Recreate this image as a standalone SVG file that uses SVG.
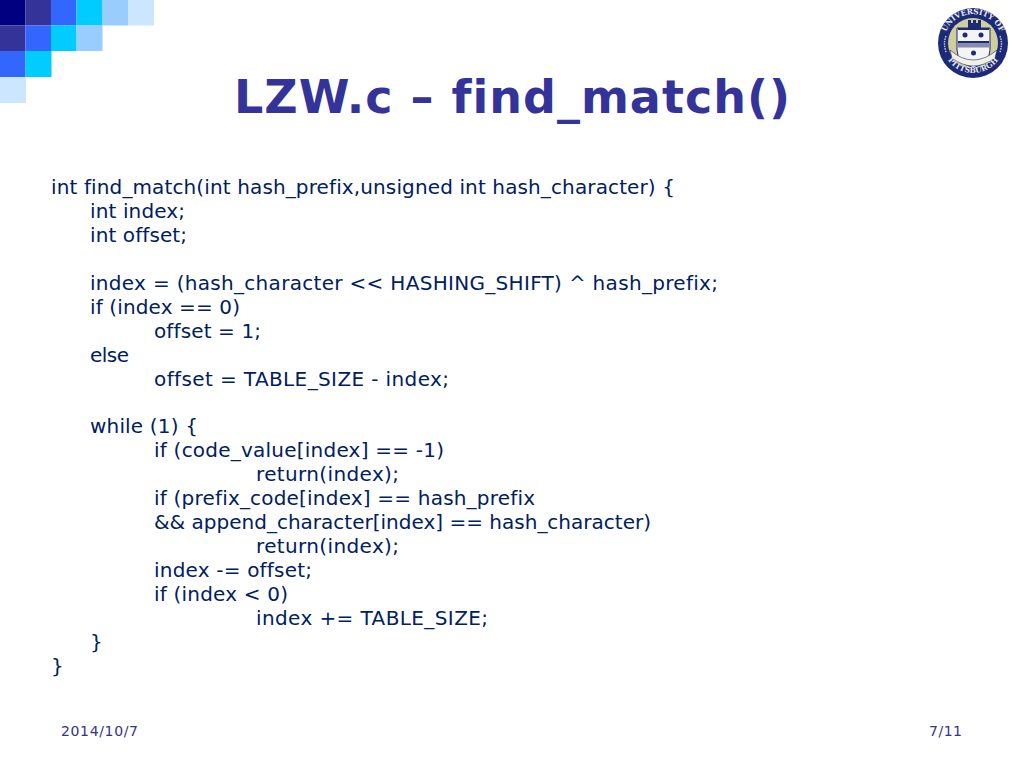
<svg xmlns="http://www.w3.org/2000/svg" width="1024" height="768" viewBox="0 0 1024 768">
<style>
text{font-variant-ligatures:none}
.t{font-family:"DejaVu Sans",Verdana,sans-serif;font-size:20px;fill:#002060}
.h{font-family:"DejaVu Sans",Verdana,sans-serif;font-size:46px;font-weight:bold;fill:#333399}
.f{font-family:"DejaVu Sans",Verdana,sans-serif;font-size:14px;fill:#333388}
.s{font-family:"DejaVu Serif",serif;font-size:7.5px;font-weight:bold;fill:#e8e8f0}
.n{fill:#1c2a78}
</style>
<defs>
<path id="arcT" d="M944 49A29.500 29.500 0 1 1 1002 49"/>
<path id="arcB" d="M942 47A31.500 31.500 0 0 0 1004 47"/>
</defs>
<rect width="1024" height="768" fill="#fff"/>
<g id="corner">
<rect x="0" y="0" width="25.500" height="25.500" fill="#000080"/>
<rect x="25.500" y="0" width="25.500" height="25.500" fill="#333399"/>
<rect x="51" y="0" width="25.500" height="25.500" fill="#3366ff"/>
<rect x="76.500" y="0" width="25.500" height="25.500" fill="#00ccff"/>
<rect x="102" y="0" width="26" height="25.500" fill="#99ccff"/>
<rect x="128" y="0" width="26" height="25.500" fill="#cce6ff"/>
<rect x="0" y="25.500" width="25.500" height="25.500" fill="#333399"/>
<rect x="25.500" y="25.500" width="25.500" height="25.500" fill="#3366ff"/>
<rect x="51" y="25.500" width="25.500" height="25.500" fill="#00ccff"/>
<rect x="76.500" y="25.500" width="26" height="25.500" fill="#99ccff"/>
<rect x="0" y="51" width="25.500" height="26" fill="#3366ff"/>
<rect x="25.500" y="51" width="26" height="26" fill="#00ccff"/>
<rect x="0" y="77" width="26" height="26" fill="#cce6ff"/>
</g>
<g id="seal">
<circle cx="973" cy="43" r="35" fill="#1c2a78"/>
<circle cx="973" cy="43" r="25" fill="#cfcf9c"/>
<path d="M957 28H990V50Q990 62 973.500 68Q957 62 957 50Z" fill="#f4f4f4" stroke="#1c2a78"/>
<rect class="n" x="958" y="28" width="31" height="2"/>
<path class="n" d="M968 29V20H971V23H973V20H976V23H978V20H981V29Z"/>
<circle class="n" cx="965" cy="35" r="2.500"/>
<circle class="n" cx="981" cy="35" r="2.500"/>
<rect class="n" x="958" y="41" width="31" height="2.500"/>
<path d="M958 43.500h31v4h-31z" fill="#8a8ab0"/>
<circle class="n" cx="973.500" cy="53" r="2.500"/>
<path d="M950 50Q973 70 997 50L995 58Q973 74 952 58Z" fill="#f2f2e4" stroke="#1c2a78" stroke-width=".6"/>
<path d="M946 36Q943 43 946 52M1000 36Q1003 43 1000 52" fill="none" stroke="#c8c8e0" stroke-width="1.500" stroke-dasharray="1.500 1"/>
<text class="s"><textPath href="#arcT" startOffset="50%" text-anchor="middle">UNIVERSITY OF</textPath></text>
<text class="s"><textPath href="#arcB" startOffset="50%" text-anchor="middle">PITTSBURGH</textPath></text>
</g>
<g id="title"><text class="h" x="234" y="113" textLength="556">LZW.c – find_match()</text></g>
<g id="code">
<text class="t" x="51" y="194" textLength="624">int find_match(int hash_prefix,unsigned int hash_character) {</text>
<text class="t" x="90" y="218" textLength="95">int index;</text>
<text class="t" x="90" y="242" textLength="97">int offset;</text>
<text class="t" x="90" y="290" textLength="628">index = (hash_character &lt;&lt; HASHING_SHIFT) ^ hash_prefix;</text>
<text class="t" x="90" y="314" textLength="150">if (index == 0)</text>
<text class="t" x="154" y="338" textLength="107">offset = 1;</text>
<text class="t" x="90" y="362" textLength="39">else</text>
<text class="t" x="154" y="386" textLength="295">offset = TABLE_SIZE - index;</text>
<text class="t" x="90" y="433" textLength="108">while (1) {</text>
<text class="t" x="154" y="457" textLength="290">if (code_value[index] == -1)</text>
<text class="t" x="256" y="481" textLength="143">return(index);</text>
<text class="t" x="154" y="505" textLength="381">if (prefix_code[index] == hash_prefix</text>
<text class="t" x="154" y="529" textLength="497">&amp;&amp; append_character[index] == hash_character)</text>
<text class="t" x="256" y="553" textLength="143">return(index);</text>
<text class="t" x="154" y="577" textLength="158">index -= offset;</text>
<text class="t" x="154" y="601" textLength="134">if (index &lt; 0)</text>
<text class="t" x="256" y="625" textLength="232">index += TABLE_SIZE;</text>
<text class="t" x="90" y="649">}</text>
<text class="t" x="51" y="673">}</text>
</g>
<g id="footer">
<text class="f" x="61" y="736" textLength="77">2014/10/7</text>
<text class="f" x="929" y="736" textLength="33">7/11</text>
</g>
</svg>
